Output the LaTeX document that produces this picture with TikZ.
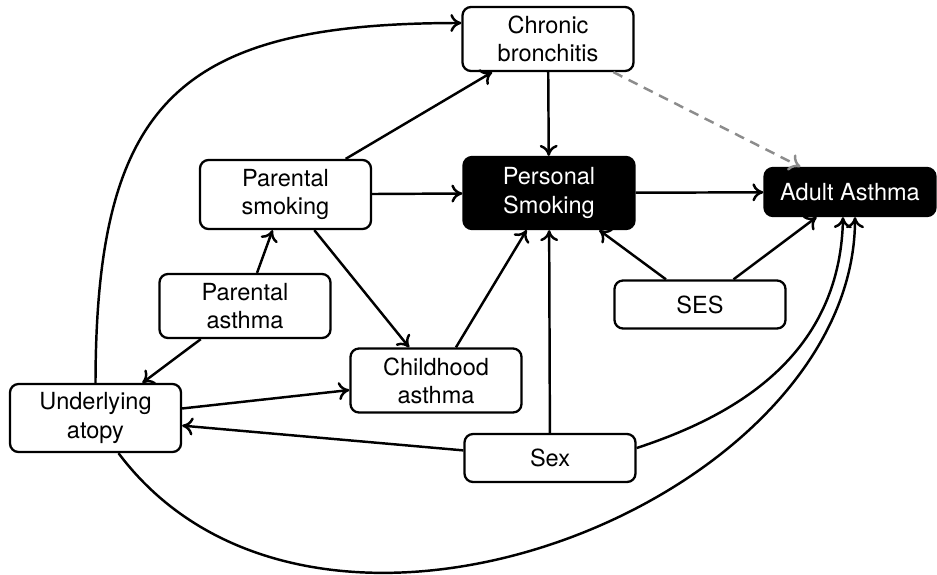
\documentclass[tikz,border=0pt]{standalone}
\usepackage{fontspec}
\setmainfont{TeX Gyre Heros}
\usetikzlibrary{arrows.meta}

\begin{document}
\begin{tikzpicture}[
    var/.style={draw, line width=1.3pt, rounded corners=0.17cm, align=center,
      minimum width=3.42cm, minimum height=1.28cm, inner sep=2pt,
      font=\fontsize{13.4}{16}\selectfont},
    oneline/.style={minimum height=0.96cm},
    outcome/.style={fill=black, text=white},
    edge/.style={line width=1.4pt, -{To[length=2.2mm,width=3.6mm]}},
    maybe/.style={line width=1.4pt, gray!90, dash pattern=on 5.7pt off 4pt,
      -{To[length=2.2mm,width=3.6mm]}}]
      \useasboundingbox (0,0) rectangle (18.74,-11.48);
      \node[var] (chron) at (10.96,-0.78) {Chronic\\bronchitis};
      \node[var,outcome,minimum height=1.44cm] (psmok) at (10.98,-3.86) {Personal\\Smoking};
      \node[var,outcome,oneline] (adult) at (17.0,-3.84) {Adult Asthma};
      \node[var,minimum height=1.38cm] (parsmok) at (5.71,-3.89) {Parental\\smoking};
      \node[var] (parasth) at (4.9,-6.12) {Parental\\asthma};
      \node[var,oneline] (ses) at (14.0,-6.09) {SES};
      \node[var] (child) at (8.72,-7.61) {Childhood\\asthma};
      \node[var,minimum height=1.36cm] (atopy) at (1.91,-8.36) {Underlying\\atopy};
      \node[var,oneline] (sex) at (11.0,-9.16) {Sex};
      % straight arrows
      \draw[edge] (chron) -- (psmok);
      \draw[edge] (psmok) -- (adult);
      \draw[edge] (parsmok) -- (chron);
      \draw[edge] (parsmok) -- (psmok);
      \draw[edge] (parsmok) -- (child);
      \draw[edge] (parasth) -- (parsmok);
      \draw[edge] (parasth) -- (atopy);
      \draw[edge] (atopy) -- (child);
      \draw[edge] (child) -- (psmok);
      \draw[edge] (ses) -- (psmok);
      \draw[edge] (ses) -- (adult);
      \draw[edge] (sex) -- (psmok);
      \draw[edge] (sex) -- (atopy);
      \draw[maybe] (chron) -- (adult);
      % curved arrows
      \draw[edge] (atopy.north) .. controls (1.92,-2.0) and (3.6,-0.46) .. ([yshift=0.32cm]chron.west);
      \draw[edge] ([yshift=0.2cm]sex.east) .. controls (14.56,-8.36) and (16.8,-7.2) .. ([xshift=-0.14cm]adult.south);
      \draw[edge] ([xshift=0.46cm]atopy.south) .. controls (6.34,-14.36) and (17.1,-10.0) .. ([xshift=0.1cm]adult.south);
    \end{tikzpicture}
\end{document}
